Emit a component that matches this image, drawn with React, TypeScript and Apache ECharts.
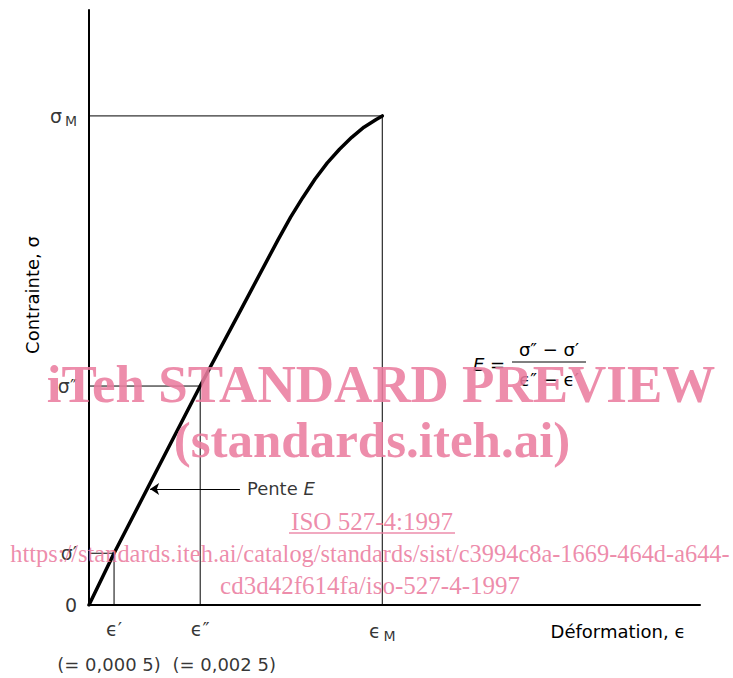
import React, { useEffect, useRef } from "react";
import * as echarts from "echarts";

// Stress–strain curve (arbitrary schematic units, 0–100 on both axes)
const curveStrain = [0, 4.1, 18.2, 25, 31, 33, 35, 37, 39, 41, 43, 45, 47, 48];
const curveStress = [0, 8.7, 36.8, 49.9, 61.5, 65.2, 68.5, 71.6, 74.3, 76.6, 78.6, 80.3, 81.6, 82.2];

// Reference points: ε′/σ′, ε″/σ″, εM/σM
const markStrain = [4.1, 18.2, 48];
const markStress = [8.7, 36.8, 82.2];
const strainLabels = ["{e|ϵ′}", "{e|ϵ″}", "{e|ϵ}{m|M}"];
const stressLabels = ["{s|σ′}", "{s|σ″}", "{s|σ}{m|M}"];
const strainValues = ["(= 0,000 5)", "(= 0,002 5)", ""];

// Slope annotation
const slopeStrain = [24.7, 10.0];
const slopeStress = 19.5;

const FONT = '"DejaVu Sans", sans-serif';
const PINK = "#eb7d9f";

export default function App() {
  const ref = useRef<HTMLDivElement>(null);

  useEffect(() => {
    if (!ref.current) return;
    const chart = echarts.init(ref.current, undefined, { renderer: "svg" });

    const rich = {
      s: { fontSize: 19, fontFamily: FONT, color: "#000" },
      e: { fontSize: 19, fontFamily: FONT, color: "#000" },
      m: { fontSize: 14, fontFamily: FONT, color: "#000", padding: [10, 0, 0, 3] },
    };

    const guideSeries = markStrain.map((e, i) => ({
      type: "line",
      data: [
        [0, markStress[i]],
        [e, markStress[i]],
        [e, 0],
      ],
      symbol: "none",
      lineStyle: { color: "#000", width: 1 },
      z: 3,
      silent: true,
    }));

    const yLabelData: any[] = markStress.map((s, i) => ({
      value: [0, s],
      label: { formatter: stressLabels[i] },
    }));
    yLabelData.push({ value: [0, 0], label: { formatter: "{s|0}" } });

    const xLabelData = markStrain.map((e, i) => ({
      value: [e, 0],
      label: { formatter: strainLabels[i] },
    }));

    const xValueData = markStrain
      .map((e, i) => ({
        value: [e, 0],
        label: { formatter: strainValues[i], offset: [i === 0 ? -5 : 24, 0] },
      }))
      .filter((d) => d.label.formatter !== "");

    const centered = { textAlign: "center", textVerticalAlign: "middle", align: "center", verticalAlign: "middle" };

    const option = {
      animation: false,
      grid: { left: 89, top: 10, width: 611, height: 595 },
      xAxis: {
        type: "value",
        min: 0,
        max: 100,
        axisLine: { show: true, onZero: false, lineStyle: { color: "#000", width: 2 } },
        axisTick: { show: false },
        axisLabel: { show: false },
        splitLine: { show: false },
      },
      yAxis: {
        type: "value",
        min: 0,
        max: 100,
        axisLine: { show: true, onZero: false, lineStyle: { color: "#000", width: 2 } },
        axisTick: { show: false },
        axisLabel: { show: false },
        splitLine: { show: false },
      },
      series: [
        {
          type: "line",
          data: curveStrain.map((x, i) => [x, curveStress[i]]),
          symbol: "none",
          smooth: false,
          lineStyle: { color: "#000", width: 3.5, join: "round", cap: "round" },
          z: 5,
        },
        ...guideSeries,
        {
          type: "lines",
          coordinateSystem: "cartesian2d",
          data: [
            {
              coords: [
                [slopeStrain[0], slopeStress],
                [slopeStrain[1], slopeStress],
              ],
            },
          ],
          symbol: ["none", "arrow"],
          symbolSize: 9,
          lineStyle: { color: "#000", width: 1, opacity: 1 },
          z: 4,
        },
        {
          type: "scatter",
          data: [
            {
              value: [slopeStrain[0], slopeStress],
              label: { formatter: "{t|Pente }{i|E}" },
            },
          ],
          symbolSize: 0,
          label: {
            show: true,
            position: "right",
            distance: 7,
            rich: {
              t: { fontSize: 18, fontFamily: FONT, color: "#000" },
              i: { fontSize: 18, fontFamily: FONT, fontStyle: "italic", color: "#000" },
            },
          },
        },
        {
          type: "scatter",
          data: yLabelData,
          symbolSize: 0,
          label: { show: true, position: "left", distance: 12, rich },
        },
        {
          type: "scatter",
          data: xLabelData,
          symbolSize: 0,
          label: { show: true, position: "bottom", distance: 14, rich },
        },
        {
          type: "scatter",
          data: xValueData,
          symbolSize: 0,
          label: {
            show: true,
            position: "bottom",
            distance: 50,
            fontSize: 18,
            fontFamily: FONT,
            color: "#000",
          },
        },
      ],
      graphic: [
        {
          type: "text",
          x: 618,
          y: 631,
          style: { text: "Déformation, ϵ", font: `18px ${FONT}`, fill: "#000", ...centered },
        },
        {
          type: "text",
          x: 32,
          y: 295,
          rotation: Math.PI / 2,
          style: { text: "Contrainte, σ", font: `18px ${FONT}`, fill: "#000", ...centered },
        },
        {
          type: "text",
          x: 489,
          y: 364,
          style: { text: "E =", font: `italic 18px ${FONT}`, fill: "#000", ...centered },
        },
        {
          type: "text",
          x: 549,
          y: 349,
          style: { text: "σ″ − σ′", font: `18px ${FONT}`, fill: "#000", ...centered },
        },
        {
          type: "line",
          shape: { x1: 512, y1: 362, x2: 586, y2: 362 },
          style: { stroke: "#000", lineWidth: 1 },
        },
        {
          type: "text",
          x: 549,
          y: 379,
          style: { text: "ϵ″ − ϵ′", font: `18px ${FONT}`, fill: "#000", ...centered },
        },
        // watermark
        {
          type: "text",
          x: 381,
          y: 384,
          z: 100,
          style: {
            text: "iTeh STANDARD PREVIEW",
            font: 'bold 53px "Liberation Serif", serif',
            fill: PINK,
            opacity: 0.88,
            ...centered,
          },
        },
        {
          type: "text",
          x: 372,
          y: 440,
          z: 100,
          style: {
            text: "(standards.iteh.ai)",
            font: 'bold 51px "Liberation Serif", serif',
            fill: PINK,
            opacity: 0.88,
            ...centered,
          },
        },
        {
          type: "text",
          x: 372,
          y: 521,
          z: 100,
          style: { text: "ISO 527-4:1997", font: '25px "Liberation Serif", serif', fill: PINK, opacity: 0.88, ...centered },
        },
        {
          type: "line",
          z: 100,
          shape: { x1: 289, y1: 533, x2: 455, y2: 533 },
          style: { stroke: PINK, lineWidth: 1.3, opacity: 0.88 },
        },
        {
          type: "text",
          x: 370,
          y: 553,
          z: 100,
          style: {
            text: "https://standards.iteh.ai/catalog/standards/sist/c3994c8a-1669-464d-a644-",
            font: '24.4px "Liberation Serif", serif',
            fill: PINK,
            opacity: 0.88,
            ...centered,
          },
        },
        {
          type: "text",
          x: 370,
          y: 585,
          z: 100,
          style: {
            text: "cd3d42f614fa/iso-527-4-1997",
            font: '25px "Liberation Serif", serif',
            fill: PINK,
            opacity: 0.88,
            ...centered,
          },
        },
      ],
    };

    chart.setOption(option as any);
    return () => chart.dispose();
  }, []);

  return (
    <div
      ref={ref}
      style={{ position: "absolute", left: 0, top: 0, width: 733, height: 678, background: "#fff" }}
    />
  );
}
